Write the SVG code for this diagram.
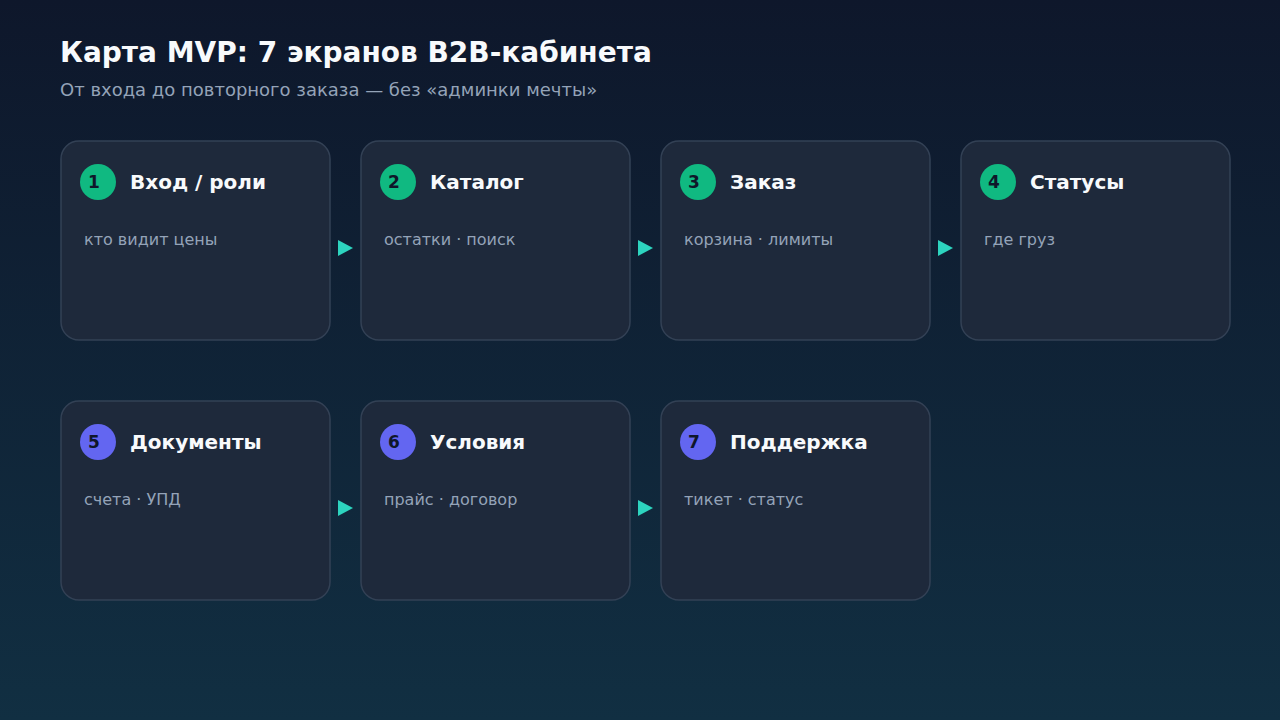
<svg xmlns="http://www.w3.org/2000/svg" width="1280" height="720" viewBox="0 0 1280 720">
<defs>
<linearGradient id="bg" x1="0" y1="0" x2="0" y2="1">
<stop offset="0" stop-color="#0e172b"/>
<stop offset="1" stop-color="#112f42"/>
</linearGradient>
<style>
.card{fill:#1e293b;stroke:#334155;stroke-width:1.5}
.t{font-family:"DejaVu Sans",sans-serif;font-weight:bold;font-size:20px;fill:#f8fafc}
.s{font-family:"DejaVu Sans",sans-serif;font-size:16px;fill:#94a3b8}
.n{font-family:"DejaVu Sans",sans-serif;font-weight:bold;font-size:17px;fill:#0f172a}
.g{fill:#10b981}
.p{fill:#6366f1}
.arr{fill:#2dd4bf}
</style>
</defs>
<rect width="1280" height="720" fill="url(#bg)"/>
<text x="60" y="62" font-family="DejaVu Sans, sans-serif" font-weight="bold" font-size="28" fill="#f8fafc">Карта MVP: 7 экранов B2B-кабинета</text>
<text x="60" y="96" font-family="DejaVu Sans, sans-serif" font-size="18" fill="#94a3b8">От входа до повторного заказа — без «админки мечты»</text>
<g id="connectors">
<polygon class="arr" points="338,240 353,248 338,256"/>
<polygon class="arr" points="638,240 653,248 638,256"/>
<polygon class="arr" points="938,240 953,248 938,256"/>
<polygon class="arr" points="338,500 353,508 338,516"/>
<polygon class="arr" points="638,500 653,508 638,516"/>
</g>
<g id="node1"><rect class="card" x="61" y="141" width="269" height="199" rx="18"/><circle class="g" cx="98" cy="182" r="18"/><text class="n" x="88" y="188">1</text><text class="t" x="130" y="189">Вход / роли</text><text class="s" x="84" y="245">кто видит цены</text></g>
<g id="node2"><rect class="card" x="361" y="141" width="269" height="199" rx="18"/><circle class="g" cx="398" cy="182" r="18"/><text class="n" x="388" y="188">2</text><text class="t" x="430" y="189">Каталог</text><text class="s" x="384" y="245">остатки · поиск</text></g>
<g id="node3"><rect class="card" x="661" y="141" width="269" height="199" rx="18"/><circle class="g" cx="698" cy="182" r="18"/><text class="n" x="688" y="188">3</text><text class="t" x="730" y="189">Заказ</text><text class="s" x="684" y="245">корзина · лимиты</text></g>
<g id="node4"><rect class="card" x="961" y="141" width="269" height="199" rx="18"/><circle class="g" cx="998" cy="182" r="18"/><text class="n" x="988" y="188">4</text><text class="t" x="1030" y="189">Статусы</text><text class="s" x="984" y="245">где груз</text></g>
<g id="node5"><rect class="card" x="61" y="401" width="269" height="199" rx="18"/><circle class="p" cx="98" cy="442" r="18"/><text class="n" x="88" y="448">5</text><text class="t" x="130" y="449">Документы</text><text class="s" x="84" y="505">счета · УПД</text></g>
<g id="node6"><rect class="card" x="361" y="401" width="269" height="199" rx="18"/><circle class="p" cx="398" cy="442" r="18"/><text class="n" x="388" y="448">6</text><text class="t" x="430" y="449">Условия</text><text class="s" x="384" y="505">прайс · договор</text></g>
<g id="node7"><rect class="card" x="661" y="401" width="269" height="199" rx="18"/><circle class="p" cx="698" cy="442" r="18"/><text class="n" x="688" y="448">7</text><text class="t" x="730" y="449">Поддержка</text><text class="s" x="684" y="505">тикет · статус</text></g>
</svg>
